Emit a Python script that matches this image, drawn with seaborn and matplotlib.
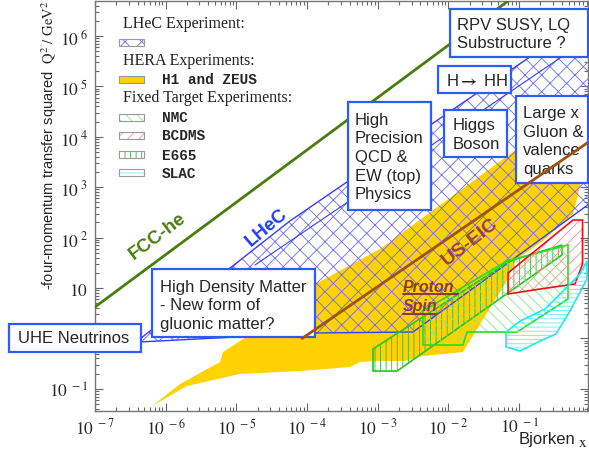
import numpy as np
import matplotlib
matplotlib.use("Agg")
import matplotlib.pyplot as plt
import seaborn as sns
from matplotlib.patches import Rectangle
from matplotlib.lines import Line2D
from matplotlib.ticker import FixedLocator, FuncFormatter, LogLocator, NullFormatter

sns.set_style("ticks")
plt.rcParams['font.family'] = ['Liberation Sans', 'DejaVu Sans']
plt.rcParams['mathtext.fontset'] = 'stix'
plt.rcParams['hatch.linewidth'] = 0.6

# ---- data (Bjorken x, Q^2 in GeV^2) ----
fcc_x = [1e-7, 6.95e-2]
fcc_q2 = [4.2, 4.94e6]
eic_x = [8.5e-5, 0.91]
eic_q2 = [1.0, 7.5e3]

lhec_x = [4.3e-7, 5.7e-5, 1.0, 1.0, 3.15e-3, 1.25e-4, 4.3e-7]
lhec_q2 = [0.97, 213, 2.5e6, 477, 1.34, 1.28, 0.85]
lhec_inner_x = [1.83e-5, 0.94]
lhec_inner_q2 = [28.6, 8.7e5]

hera_x = [6.4e-7, 1.59e-6, 3.05e-6, 5.86e-6, 6.45e-6, 1.46e-5, 1.10e-4, 1.07e-3,
          2.79e-2, 9.31e-2, 0.853, 0.724, 0.658, 0.577, 0.232, 8.73e-2, 6.95e-2,
          1.60e-2, 4.35e-3, 2.43e-3, 8.55e-4, 5.60e-4, 4.05e-4, 7.94e-5, 1.12e-5, 2.0e-6]
hera_q2 = [0.0456, 0.124, 0.206, 0.340, 0.537, 1.12, 10.5, 59.4,
           1.67e3, 5.73e3, 1.43e4, 1.06e3, 583, 294, 93.8, 34.4, 15.1,
           0.537, 0.448, 0.356, 0.356, 0.340, 0.271, 0.225, 0.197, 0.114]

e665_x = [8.55e-4, 8.55e-4, 1.87e-3, 0.403, 0.403, 7.41e-2]
e665_q2 = [0.617, 0.225, 0.225, 45.2, 71.3, 34.4]
nmc_x = [4.35e-3, 4.35e-3, 1.60e-2, 1.83e-2, 9.31e-2, 0.49, 0.49, 6.71e-2]
nmc_q2 = [3.5, 0.74, 0.74, 1.34, 1.34, 6.05, 71.3, 34.4]
bcdms_x = [6.95e-2, 0.577, 0.787, 0.787, 0.615, 0.197, 6.95e-2]
bcdms_q2 = [19.9, 223, 223, 29.9, 12.0, 9.55, 7.6]
slac_x = [6.5e-2, 0.103, 0.232, 0.445, 0.724, 0.91, 0.91, 0.524, 0.331, 0.197, 0.103, 6.5e-2]
slac_q2 = [1.34, 2.21, 3.83, 9.55, 19.0, 34.4, 15.1, 3.5, 1.22, 0.887, 0.562, 0.675]

x_ticks = [1e-7, 1e-6, 1e-5, 1e-4, 1e-3, 1e-2, 1e-1]
y_ticks = [1e-1, 1, 10, 1e2, 1e3, 1e4, 1e5, 1e6]

# colours
BOXBLUE = '#2a5cff'
LHEC_EDGE, LHEC_HATCH = '#3a3aff', '#6a6aff'
GOLD = '#ffd200'
NMC_EDGE, NMC_HATCH = '#22e022', '#80ee80'
E665_EDGE, E665_HATCH = '#22c822', '#3cb43c'
BCD_EDGE, BCD_HATCH = '#ee1111', '#ff8c8c'
SLAC_EDGE, SLAC_HATCH = '#22e8f0', '#66eef2'

W, H = 589, 452
fig = plt.figure(figsize=(W / 100, H / 100), dpi=100)
ax = fig.add_axes([95 / W, 40 / H, 493 / W, 410 / H])
ax.set_xscale('log')
ax.set_yscale('log')


def fx(px):
    return px / W


def fy(py):
    return 1 - py / H


def region(xs, ys, hatch, hcol, ecol, z, lw=1.2):
    ax.fill(xs, ys, fill=False, edgecolor=hcol, hatch=hatch, linewidth=0, zorder=z)
    ax.fill(xs, ys, fill=False, edgecolor=ecol, linewidth=lw, zorder=z + 0.1)


# HERA
ax.fill(hera_x, hera_q2, facecolor=GOLD, edgecolor='none', zorder=1)
# LHeC
region(lhec_x, lhec_q2, 'xx', LHEC_HATCH, LHEC_EDGE, 2, lw=1.0)
sns.lineplot(x=lhec_inner_x, y=lhec_inner_q2, ax=ax, color=LHEC_EDGE, lw=0.8,
             estimator=None, sort=False, zorder=2.2)
# fixed target
region(e665_x, e665_q2, '|||', E665_HATCH, E665_EDGE, 3)
region(nmc_x, nmc_q2, '\\\\\\', NMC_HATCH, NMC_EDGE, 3.2)
region(bcdms_x, bcdms_q2, '///', BCD_HATCH, BCD_EDGE, 3.4)
region(slac_x, slac_q2, '----', SLAC_HATCH, SLAC_EDGE, 3.6)

# machine lines
sns.lineplot(x=fcc_x, y=fcc_q2, ax=ax, color='#4a7d10', lw=2.0,
             estimator=None, sort=False, zorder=4)
sns.lineplot(x=eic_x, y=eic_q2, ax=ax, color='#a0520f', lw=2.0,
             estimator=None, sort=False, zorder=8)

ax.set_xlim(1e-7, 0.94)
ax.set_ylim(0.0363, 4.94e6)


def fmt(v, pos):
    e = int(round(np.log10(v)))
    if e == 0:
        return ''  # hidden behind the UHE box in the original
    if e == 1:
        return r'$10$'
    return r'$10^{\ %d}$' % e


for axis, ticks in ((ax.xaxis, x_ticks), (ax.yaxis, y_ticks)):
    axis.set_major_locator(FixedLocator(ticks))
    axis.set_major_formatter(FuncFormatter(fmt))
    axis.set_minor_locator(LogLocator(base=10, subs=np.arange(2, 10), numticks=100))
    axis.set_minor_formatter(NullFormatter())

ax.tick_params(which='both', direction='in', top=True, right=True,
               color='#666666', labelsize=12.5, width=0.8)
ax.tick_params(which='major', length=6)
ax.tick_params(which='minor', length=3)
ax.tick_params(axis='x', pad=4)
ax.tick_params(axis='y', pad=5)
for sp in ax.spines.values():
    sp.set_color('#777777')
    sp.set_linewidth(1.0)

# axis titles
fig.text(fx(49), fy(290), '-four-momentum transfer squared  $\\mathrm{Q^{2}\\ /\\ GeV^{2}}$',
         rotation=90, rotation_mode='anchor', ha='left', va='center', fontsize=10.5)
fig.text(fx(519), fy(440), 'Bjorken', ha='left', va='center', fontsize=12)
fig.text(fx(578), fy(443), '$\\mathrm{x}$', ha='left', va='center', fontsize=11)

# ---- legend ----
serif = ['Liberation Serif', 'DejaVu Serif']
mono = ['Liberation Mono', 'DejaVu Sans Mono']
for txt, py in (('LHeC Experiment:', 24), ('HERA Experiments:', 61),
                ('Fixed Target Experiments:', 98)):
    ax.text(fx(123), fy(py), txt, transform=fig.transFigure, family=serif,
            fontsize=11.5, ha='left', va='center', color='#222222', zorder=6)

swatches = [(40, 'xx', 'none', LHEC_HATCH, None),
            (77, None, GOLD, None, 'H1 and ZEUS'),
            (115, '\\\\\\', 'none', NMC_HATCH, 'NMC'),
            (133, '///', 'none', BCD_HATCH, 'BCDMS'),
            (152, '|||', 'none', E665_HATCH, 'E665'),
            (170, '----', 'none', SLAC_HATCH, 'SLAC')]
for py, hatch, fc, hc, label in swatches:
    if hatch:
        ax.add_patch(Rectangle((fx(119), fy(py + 7)), 25 / W, 7 / H, transform=fig.transFigure,
                               fill=False, hatch=hatch, edgecolor=hc, lw=0, clip_on=False, zorder=6))
        ax.add_patch(Rectangle((fx(119), fy(py + 7)), 25 / W, 7 / H, transform=fig.transFigure,
                               fill=False, edgecolor='#999999', lw=0.8, clip_on=False, zorder=6.1))
    else:
        ax.add_patch(Rectangle((fx(119), fy(py + 7)), 25 / W, 7 / H, transform=fig.transFigure,
                               facecolor=fc, edgecolor='#999999', lw=0.8, clip_on=False, zorder=6))
    if label:
        ax.text(fx(162), fy(py + 3.5), label, transform=fig.transFigure, family=mono,
                fontweight='bold', fontsize=10.4, ha='left', va='center', zorder=6)

# ---- physics boxes ----
boxes = [((9, 325, 141, 353), 'UHE Neutrinos', (18, 339)),
         ((152, 270, 315, 338), 'High Density Matter\n- New form of\ngluonic matter?', (160, 306)),
         ((348, 103, 431, 211), 'High\nPrecision\nQCD &\nEW (top)\nPhysics', (355, 157.5)),
         ((444, 111, 507, 158), 'Higgs\nBoson', (453, 135)),
         ((438, 67, 511, 94), 'H$\\mathbf{\\rightarrow}$ HH', (446, 81)),
         ((450, 10, 588, 58), 'RPV SUSY, LQ\nSubstructure ?', (457, 34.5)),
         ((516, 97, 588, 184), 'Large x\nGluon &\nvalence\nquarks', (523, 141.5))]
for (x0, y0, x1, y1), txt, (tx, ty) in boxes:
    ax.add_patch(Rectangle((fx(x0), fy(y1)), (x1 - x0) / W, (y1 - y0) / H,
                           transform=fig.transFigure, facecolor='white', edgecolor=BOXBLUE,
                           lw=1.6, clip_on=False, zorder=5))
    ax.text(fx(tx), fy(ty), txt, transform=fig.transFigure, fontsize=12, ha='left',
            va='center', linespacing=1.3, clip_on=False, zorder=5.5)

# ---- rotated machine labels ----
ax.text(fx(158), fy(236), 'FCC-he', transform=fig.transFigure, rotation=37, fontsize=13.5,
        fontweight='bold', color='#4a7d10', ha='center', va='center', zorder=6)
ax.text(fx(267), fy(228), 'LHeC', transform=fig.transFigure, rotation=40, fontsize=13.5,
        fontweight='bold', color='#1f3cf0', ha='center', va='center', zorder=6)
ax.text(fx(470), fy(242), 'US-EIC', transform=fig.transFigure, rotation=38, fontsize=14,
        fontweight='bold', color='#9a4040', ha='center', va='center', zorder=6)
for txt, py, uw in (('Proton', 287, 55), ('Spin', 307, 34)):
    ax.text(fx(403), fy(py), txt, transform=fig.transFigure, fontsize=11.5, fontweight='bold',
            style='italic', color='#8b3a3a', ha='left', va='center', zorder=6)
    ax.add_line(Line2D([fx(403), fx(403 + uw)], [fy(py + 8), fy(py + 8)], transform=fig.transFigure,
                       color='#8b3a3a', lw=1.5, zorder=6))

fig.savefig('out.png', dpi=100)
